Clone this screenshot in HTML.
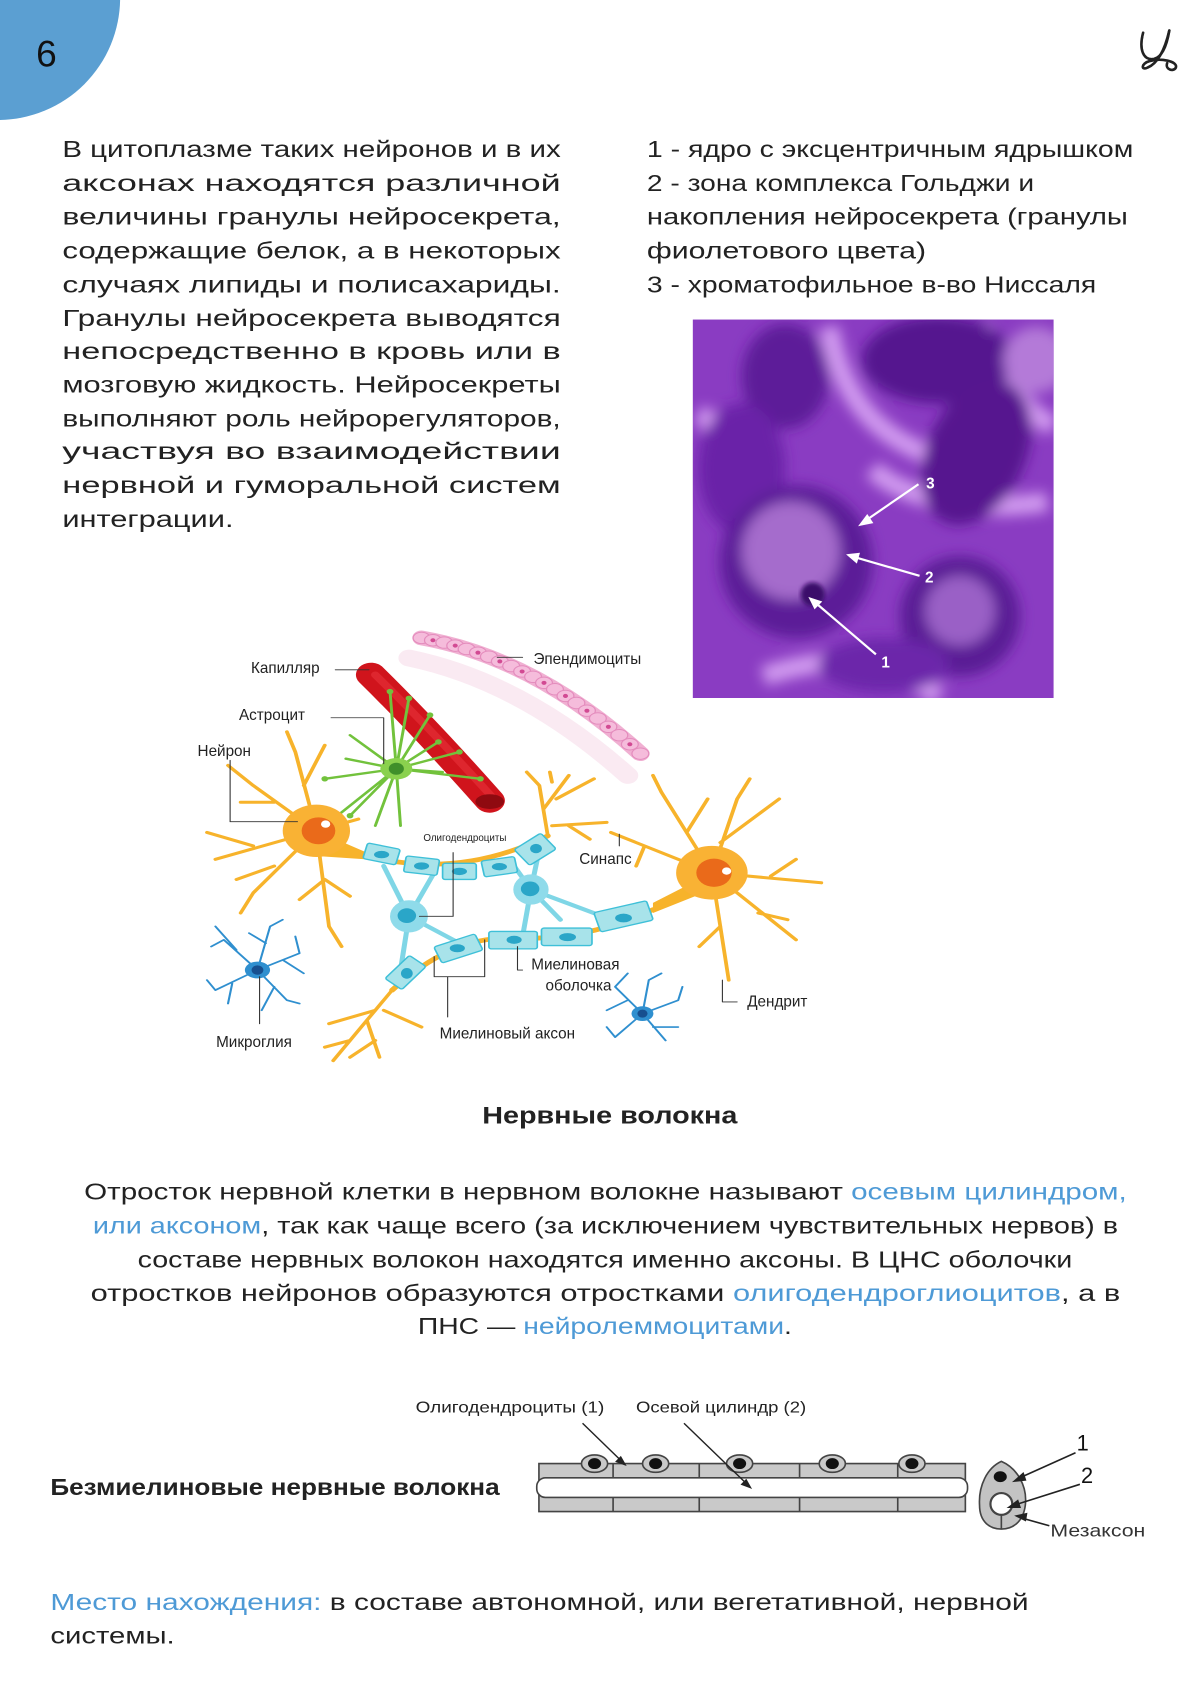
<!DOCTYPE html>
<html><head><meta charset="utf-8"><style>
html,body{margin:0;padding:0;background:#fff;width:1200px;height:1697px;overflow:hidden}
svg{display:block}
text{font-family:"Liberation Sans","DejaVu Sans",sans-serif;fill:#222}
.b{font-size:21px}
.bl{fill:#4e9ad6}
.lab{font-size:14px;fill:#333}
</style></head><body>
<svg width="1200" height="1697" viewBox="0 0 1100 1556" xmlns="http://www.w3.org/2000/svg">
<defs>
<clipPath id="pc"><rect x="635" y="293" width="331" height="347"/></clipPath>
<filter id="bl1"><feGaussianBlur stdDeviation="6"/></filter>
<filter id="bl2"><feGaussianBlur stdDeviation="2"/></filter>
</defs>
<!-- header -->
<circle cx="-2" cy="-2" r="112" fill="#5b9fd2"/>
<text x="33" y="61" style="font-size:34px;fill:#111">6</text>
<g fill="none" stroke="#222" stroke-width="2.4" stroke-linecap="round">
<path d="M1048 30 C1044 45 1048 56 1058 54 C1066 52 1070 40 1072 28"/>
<path d="M1072 28 C1068 45 1062 58 1052 62 C1046 65 1046 58 1054 56 C1064 53 1080 56 1078 62 C1076 66 1068 64 1070 58"/>
</g>
<!-- left paragraph -->
<g class="b">
<text x="57" y="144" textLength="457" lengthAdjust="spacingAndGlyphs">В цитоплазме таких нейронов и в их</text>
<text x="57" y="175" textLength="457" lengthAdjust="spacingAndGlyphs">аксонах      находятся      различной</text>
<text x="57" y="206" textLength="457" lengthAdjust="spacingAndGlyphs">величины   гранулы   нейросекрета,</text>
<text x="57" y="237" textLength="457" lengthAdjust="spacingAndGlyphs">содержащие белок, а в некоторых</text>
<text x="57" y="268" textLength="457" lengthAdjust="spacingAndGlyphs">случаях   липиды   и   полисахариды.</text>
<text x="57" y="299" textLength="457" lengthAdjust="spacingAndGlyphs">Гранулы  нейросекрета  выводятся</text>
<text x="57" y="329" textLength="457" lengthAdjust="spacingAndGlyphs">непосредственно   в   кровь   или   в</text>
<text x="57" y="360" textLength="457" lengthAdjust="spacingAndGlyphs">мозговую жидкость. Нейросекреты</text>
<text x="57" y="391" textLength="457" lengthAdjust="spacingAndGlyphs">выполняют роль нейрорегуляторов,</text>
<text x="57" y="421" textLength="457" lengthAdjust="spacingAndGlyphs">участвуя      во      взаимодействии</text>
<text x="57" y="452" textLength="457" lengthAdjust="spacingAndGlyphs">нервной   и   гуморальной   систем</text>
<text x="57" y="483" textLength="157" lengthAdjust="spacingAndGlyphs">интеграции.</text>
</g>
<!-- right list -->
<g class="b">
<text x="593" y="144" textLength="446" lengthAdjust="spacingAndGlyphs">1 - ядро с эксцентричным ядрышком</text>
<text x="593" y="175" textLength="355" lengthAdjust="spacingAndGlyphs">2 - зона комплекса Гольджи и</text>
<text x="593" y="206" textLength="441" lengthAdjust="spacingAndGlyphs">накопления нейросекрета (гранулы</text>
<text x="593" y="237" textLength="256" lengthAdjust="spacingAndGlyphs">фиолетового цвета)</text>
<text x="593" y="268" textLength="412" lengthAdjust="spacingAndGlyphs">3 - хроматофильное в-во Ниссаля</text>
</g>
<!-- purple micrograph -->
<g clip-path="url(#pc)">
<rect x="635" y="293" width="331" height="347" fill="#8a3cc2"/>
<g filter="url(#bl1)">
<path d="M640 380 C680 400 700 460 660 470 M760 300 C770 360 800 400 860 420 M800 430 C830 460 900 470 960 460 M700 620 C760 600 820 600 860 640 M900 300 C920 350 940 380 966 390" stroke="#d09aef" stroke-width="18" fill="none"/>
<ellipse cx="720" cy="345" rx="40" ry="48" fill="#5d1b99"/>
<ellipse cx="860" cy="330" rx="70" ry="40" fill="#55178f"/>
<ellipse cx="895" cy="415" rx="45" ry="70" fill="#56188f" transform="rotate(25 895 415)"/>
<ellipse cx="680" cy="430" rx="40" ry="60" fill="#6a24a8"/>
<circle cx="730" cy="515" r="70" fill="#5c1a98"/>
<circle cx="725" cy="505" r="45" fill="#a56ccc"/>
<circle cx="880" cy="565" r="55" fill="#5a1a95"/>
<circle cx="880" cy="560" r="32" fill="#9a60c6"/>
<ellipse cx="810" cy="610" rx="60" ry="25" fill="#6c26aa"/>
<ellipse cx="950" cy="330" rx="30" ry="30" fill="#b47ad8"/>
</g>
<circle cx="745" cy="545" r="11" fill="#3a0a6a" filter="url(#bl2)"/>
<g stroke="#fff" stroke-width="2" fill="#fff">
<line x1="842" y1="444" x2="794" y2="477"/><path d="M789 481 l10 -2 -4 -6z"/>
<line x1="843" y1="528" x2="784" y2="511"/><path d="M778 509 l9 -1 -2 7z"/>
<line x1="803" y1="600" x2="748" y2="553"/><path d="M743 549 l9 3 -5 5z"/>
</g>
<g style="font-size:14px;font-weight:bold"><text x="849" y="448" style="fill:#fff">3</text><text x="848" y="534" style="fill:#fff">2</text><text x="808" y="612" style="fill:#fff">1</text></g>
</g>
<!-- neuron diagram (zoom coords) -->
<g transform="translate(174.2,572.6) scale(0.3858,0.3076)" stroke-linecap="round" stroke-linejoin="round">
<path d="M520 100 Q790 170 1040 450" stroke="#f6dcea" stroke-width="50" fill="none" opacity="0.6"/>
<path d="M550 40 Q820 100 1070 385" stroke="#f0b0d2" stroke-width="44" fill="none"/>
<g fill="#f5bcdb" stroke="#e48cbd" stroke-width="3">
<ellipse cx="550" cy="40" rx="20" ry="17"/><ellipse cx="577" cy="47" rx="20" ry="17"/><ellipse cx="604" cy="54" rx="20" ry="17"/><ellipse cx="630" cy="63" rx="20" ry="17"/><ellipse cx="657" cy="73" rx="20" ry="17"/><ellipse cx="684" cy="84" rx="20" ry="17"/><ellipse cx="710" cy="96" rx="20" ry="17"/><ellipse cx="736" cy="110" rx="20" ry="17"/><ellipse cx="763" cy="124" rx="20" ry="17"/><ellipse cx="789" cy="140" rx="20" ry="17"/><ellipse cx="815" cy="156" rx="20" ry="17"/><ellipse cx="841" cy="174" rx="20" ry="17"/><ellipse cx="867" cy="193" rx="20" ry="17"/><ellipse cx="892" cy="213" rx="20" ry="17"/><ellipse cx="918" cy="234" rx="20" ry="17"/><ellipse cx="943" cy="257" rx="20" ry="17"/><ellipse cx="969" cy="280" rx="20" ry="17"/><ellipse cx="994" cy="305" rx="20" ry="17"/><ellipse cx="1020" cy="330" rx="20" ry="17"/><ellipse cx="1045" cy="357" rx="20" ry="17"/><ellipse cx="1070" cy="385" rx="20" ry="17"/>
</g>
<g fill="#d24a93"><circle cx="577" cy="47" r="6"/><circle cx="630" cy="63" r="6"/><circle cx="684" cy="84" r="6"/><circle cx="736" cy="110" r="6"/><circle cx="789" cy="140" r="6"/><circle cx="841" cy="174" r="6"/><circle cx="892" cy="213" r="6"/><circle cx="943" cy="257" r="6"/><circle cx="994" cy="305" r="6"/><circle cx="1045" cy="357" r="6"/></g>
<path d="M430 150 Q560 310 712 525" stroke="#d0141c" stroke-width="72" fill="none"/>
<path d="M440 150 Q570 310 722 520" stroke="#e8323a" stroke-width="20" fill="none" opacity="0.6"/>
<ellipse cx="712" cy="528" rx="34" ry="22" fill="#8f0a10"/>
<g stroke="#72c23c" stroke-width="7" fill="none">
<path d="M490 430 L475 200 M490 430 L520 220 M490 430 L570 270 M490 430 L590 350 M490 430 L640 380 M490 430 L690 460 M490 430 L380 330 M490 430 L370 400 M490 430 L320 460 M490 430 L340 580 M490 430 L380 570 M490 430 L440 600 M490 430 L500 600 M490 430 L600 440"/>
</g>
<g fill="#72c23c"><circle cx="475" cy="200" r="8"/><circle cx="520" cy="220" r="8"/><circle cx="570" cy="270" r="8"/><circle cx="590" cy="350" r="8"/><circle cx="640" cy="380" r="8"/><circle cx="690" cy="460" r="8"/><circle cx="320" cy="460" r="8"/><circle cx="340" cy="580" r="8"/><circle cx="380" cy="570" r="8"/></g>
<ellipse cx="490" cy="430" rx="38" ry="32" fill="#8ad14e"/>
<circle cx="490" cy="430" r="18" fill="#3f8f2a"/>
<g stroke="#f7b32b" fill="none" stroke-width="9">
<path d="M300 615 L150 480 L90 420 M200 530 L120 530 M300 615 L60 700 M150 660 L40 620 M300 615 L150 800 L120 860 M200 720 L110 760 M300 615 L330 900 L360 960 M320 760 L260 820 M320 760 L380 810 M300 615 L250 380 L230 320 M270 480 L320 360 M300 615 L400 580"/>
<path d="M850 630 L830 480 L800 440 M840 550 L900 450 M870 520 L960 460 M860 600 L990 590 M900 600 L950 640 M860 470 L855 440"/>
<path d="M1240 740 L1120 500 L1100 450 M1180 620 L1230 520 M1240 740 L1300 520 L1330 460 M1260 650 L1400 520 M1240 740 L1500 770 M1380 750 L1440 700 M1240 740 L1440 940 M1350 860 L1420 880 M1240 740 L1280 1060 M1260 900 L1210 960 M1240 740 L1060 650 L1000 620 M1080 660 L1060 720"/>
<path d="M480 1090 L420 1180 L340 1300 M440 1150 L330 1190 M420 1180 L450 1290 M460 1150 L550 1200 M380 1240 L320 1260 M440 1240 L380 1290"/>
</g>
<path d="M300 615 L420 680 L420 700 L300 690z" fill="#f7b32b"/>
<path d="M1240 740 L1100 830 L1100 860 L1240 790z" fill="#f7b32b"/>
<ellipse cx="300" cy="615" rx="80" ry="78" fill="#f9b234"/>
<circle cx="305" cy="615" r="40" fill="#ea6a1a"/>
<circle cx="322" cy="595" r="11" fill="#fff"/>
<ellipse cx="1240" cy="740" rx="85" ry="80" fill="#f9b234"/>
<circle cx="1245" cy="740" r="42" fill="#ea6a1a"/>
<circle cx="1275" cy="735" r="11" fill="#fff"/>
<g stroke="#7fd6e6" stroke-width="12" fill="none">
<path d="M520 870 L460 720 M520 870 L580 740 M520 870 L640 950 M520 870 L500 1030 M810 790 L770 720 M810 790 L830 670 M810 790 L880 880 M810 790 L790 930 M810 790 L980 870"/>
</g>
<ellipse cx="520" cy="870" rx="45" ry="48" fill="#8fdbea"/>
<circle cx="515" cy="868" r="22" fill="#2aa6c8"/>
<ellipse cx="810" cy="790" rx="42" ry="45" fill="#8fdbea"/>
<circle cx="808" cy="788" r="22" fill="#2aa6c8"/>
<path d="M420 690 Q640 760 850 630" stroke="#f7b32b" stroke-width="14" fill="none"/>
<path d="M480 1090 Q620 930 760 935 Q940 945 1100 850" stroke="#f7b32b" stroke-width="14" fill="none"/>
<g fill="#a8e3ea" stroke="#3fc0d8" stroke-width="4">
<rect x="415" y="660" width="80" height="48" rx="6" transform="rotate(14 455 684)"/>
<rect x="510" y="695" width="80" height="48" rx="6" transform="rotate(8 550 719)"/>
<rect x="600" y="712" width="80" height="48" rx="6"/>
<rect x="695" y="698" width="80" height="48" rx="6" transform="rotate(-10 735 722)"/>
<rect x="780" y="640" width="80" height="60" rx="6" transform="rotate(-38 820 670)"/>
<rect x="470" y="1010" width="90" height="52" rx="6" transform="rotate(-50 515 1040)"/>
<rect x="585" y="940" width="105" height="52" rx="6" transform="rotate(-22 637 966)"/>
<rect x="710" y="915" width="115" height="52" rx="6"/>
<rect x="835" y="905" width="120" height="52" rx="6"/>
<rect x="965" y="840" width="130" height="60" rx="6" transform="rotate(-16 1030 870)"/>
</g>
<g fill="#2aa6c8">
<ellipse cx="455" cy="686" rx="18" ry="11"/><ellipse cx="550" cy="720" rx="18" ry="11"/><ellipse cx="640" cy="736" rx="18" ry="11"/><ellipse cx="735" cy="722" rx="18" ry="11"/><ellipse cx="822" cy="668" rx="14" ry="14"/>
<ellipse cx="515" cy="1040" rx="14" ry="16"/><ellipse cx="635" cy="965" rx="18" ry="12"/><ellipse cx="770" cy="940" rx="18" ry="12"/><ellipse cx="897" cy="932" rx="20" ry="12"/><ellipse cx="1030" cy="875" rx="20" ry="13"/>
</g>
<g stroke="#2f8fcf" stroke-width="5" fill="none">
<path d="M160 1030 L80 940 L50 960 M110 970 L60 900 M160 1030 L190 900 L220 880 M180 950 L140 920 M160 1030 L260 980 L250 930 M220 1000 L270 1040 M160 1030 L230 1120 L260 1130 M200 1080 L170 1150 M160 1030 L60 1090 L40 1060 M100 1070 L90 1130"/>
<path d="M1075 1160 L1010 1080 L1040 1040 M1040 1120 L990 1150 M1075 1160 L1090 1060 L1120 1040 M1075 1160 L1160 1120 L1170 1080 M1075 1160 L1130 1240 M1075 1160 L1010 1230 L990 1200 M1100 1200 L1160 1200"/>
</g>
<ellipse cx="160" cy="1030" rx="30" ry="25" fill="#2f8fcf"/><circle cx="160" cy="1030" r="14" fill="#174f8f"/>
<ellipse cx="1075" cy="1160" rx="26" ry="22" fill="#2f8fcf"/><circle cx="1075" cy="1160" r="12" fill="#174f8f"/>
<g stroke="#333" stroke-width="2.6" fill="none">
<path d="M345 135 L425 135"/>
<path d="M335 278 L460 278 L460 415"/>
<path d="M95 405 L95 588 L255 588"/>
<path d="M625 680 L625 870 L545 870"/>
<path d="M1020 625 L1020 660"/>
<path d="M778 960 L778 1030 L790 1030"/>
<path d="M580 990 L580 1050 L700 1050 L700 940 M612 1050 L612 1170"/>
<path d="M1265 1060 L1265 1125 L1300 1125"/>
<path d="M165 1050 L165 1190"/>
<path d="M730 98 L790 98"/>
</g>
</g>
<g class="lab">
<text x="230" y="617">Капилляр</text>
<text x="219" y="660">Астроцит</text>
<text x="181" y="693">Нейрон</text>
<text x="388" y="771" style="font-size:9px">Олигодендроциты</text>
<text x="531" y="792">Синапс</text>
<text x="487" y="889">Миелиновая</text>
<text x="500" y="908">оболочка</text>
<text x="685" y="923">Дендрит</text>
<text x="403" y="952">Миелиновый аксон</text>
<text x="198" y="960">Микроглия</text>
<text x="489" y="609">Эпендимоциты</text>
</g>
<text x="442" y="1030" textLength="234" lengthAdjust="spacingAndGlyphs" style="font-size:22px;font-weight:bold">Нервные волокна</text>
<g class="b">
<text x="77" y="1100" textLength="956" lengthAdjust="spacingAndGlyphs">Отросток нервной клетки в нервном волокне называют <tspan class="bl">осевым цилиндром,</tspan></text>
<text x="85" y="1131" textLength="940" lengthAdjust="spacingAndGlyphs"><tspan class="bl">или аксоном</tspan>, так как чаще всего (за исключением чувствительных нервов) в</text>
<text x="126" y="1162" textLength="857" lengthAdjust="spacingAndGlyphs">составе нервных волокон находятся именно аксоны. В ЦНС оболочки</text>
<text x="83" y="1193" textLength="944" lengthAdjust="spacingAndGlyphs">отростков нейронов образуются отростками <tspan class="bl">олигодендроглиоцитов</tspan>, а в</text>
<text x="383" y="1223" textLength="343" lengthAdjust="spacingAndGlyphs">ПНС — <tspan class="bl">нейролеммоцитами</tspan>.</text>
</g>
<text x="46" y="1371" textLength="412" lengthAdjust="spacingAndGlyphs" style="font-size:21px;font-weight:bold">Безмиелиновые нервные волокна</text>
<g class="lab">
<text x="381" y="1295" textLength="173" lengthAdjust="spacingAndGlyphs">Олигодендроциты (1)</text>
<text x="583" y="1295" textLength="156" lengthAdjust="spacingAndGlyphs">Осевой цилиндр (2)</text>
</g>
<g stroke="#444" stroke-width="1.5">
<path d="M494 1342 L885 1342 L885 1386 L494 1386 Z" fill="#c9c9c9"/>
<g fill="#c9c9c9"><ellipse cx="545" cy="1342" rx="12" ry="8"/><ellipse cx="601" cy="1342" rx="12" ry="8"/><ellipse cx="678" cy="1342" rx="12" ry="8"/><ellipse cx="763" cy="1342" rx="12" ry="8"/><ellipse cx="836" cy="1342" rx="12" ry="8"/></g>
<rect x="492" y="1355" width="395" height="18" rx="8" fill="#fff"/>
<path d="M562 1342 L562 1355 M641 1342 L641 1355 M733 1342 L733 1355 M823 1342 L823 1355 M562 1373 L562 1386 M641 1373 L641 1386 M733 1373 L733 1386 M823 1373 L823 1386" fill="none"/>
</g>
<g fill="#111"><ellipse cx="545" cy="1342" rx="6" ry="5"/><ellipse cx="601" cy="1342" rx="6" ry="5"/><ellipse cx="678" cy="1342" rx="6" ry="5"/><ellipse cx="763" cy="1342" rx="6" ry="5"/><ellipse cx="836" cy="1342" rx="6" ry="5"/></g>
<g stroke="#222" stroke-width="1.3" fill="#222">
<line x1="534" y1="1305" x2="570" y2="1340"/><path d="M573 1343 l-8 -3 4 -4z"/>
<line x1="627" y1="1305" x2="685" y2="1361"/><path d="M688 1364 l-8 -3 4 -4z"/>
</g>
<path d="M918 1340 C932 1346 942 1362 940 1380 C938 1396 928 1402 918 1402 C908 1402 898 1396 898 1380 C897 1362 905 1346 918 1340Z" fill="#c3c3c3" stroke="#444" stroke-width="1.5"/>
<ellipse cx="917" cy="1354" rx="6" ry="5" fill="#111"/>
<circle cx="918" cy="1379" r="10" fill="#fff" stroke="#444" stroke-width="2"/>
<line x1="918" y1="1389" x2="918" y2="1402" stroke="#444" stroke-width="1.5"/>
<g stroke="#222" stroke-width="1.5" fill="#222">
<line x1="986" y1="1332" x2="935" y2="1355"/><path d="M930 1358 l8 -7 2 6z"/>
<line x1="990" y1="1361" x2="930" y2="1380"/><path d="M925 1382 l8 -6 2 6z"/>
<line x1="962" y1="1399" x2="937" y2="1392"/><path d="M932 1390 l9 -2 -1 6z"/>
</g>
<text x="987" y="1330" style="font-size:20px;fill:#111">1</text>
<text x="991" y="1360" style="font-size:20px;fill:#111">2</text>
<text x="963" y="1409" class="lab" style="font-size:16px" textLength="87" lengthAdjust="spacingAndGlyphs">Мезаксон</text>
<g class="b">
<text x="46" y="1476" textLength="897" lengthAdjust="spacingAndGlyphs"><tspan class="bl">Место нахождения:</tspan> в составе автономной, или вегетативной, нервной</text>
<text x="46" y="1507" textLength="114" lengthAdjust="spacingAndGlyphs">системы.</text>
</g>
</svg>
</body></html>
